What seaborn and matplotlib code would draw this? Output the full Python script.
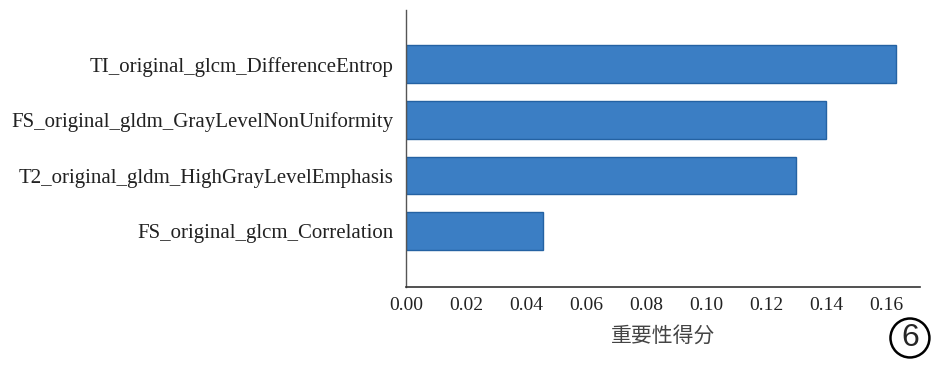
import matplotlib
matplotlib.use("Agg")
import matplotlib.pyplot as plt
import seaborn as sns
import pandas as pd

features = [
    "TI_original_glcm_DifferenceEntrop",
    "FS_original_gldm_GrayLevelNonUniformity",
    "T2_original_gldm_HighGrayLevelEmphasis",
    "FS_original_glcm_Correlation",
]
importance = [0.163, 0.140, 0.130, 0.0457]
xticks = [0.00, 0.02, 0.04, 0.06, 0.08, 0.10, 0.12, 0.14, 0.16]
xlabel = "重要性得分"
badge = "6"

sns.set_style("white")
plt.rcParams["font.family"] = ["Liberation Serif", "Noto Sans CJK SC", "DejaVu Sans"]

df = pd.DataFrame({"feature": features, "importance": importance})

fig = plt.figure(figsize=(9.41, 3.71), dpi=100)
ax = fig.add_axes([0.4315, 0.2264, 0.5462, 0.7466])
sns.barplot(data=df, x="importance", y="feature", color="#3b7ec4",
            saturation=1, width=0.68, edgecolor="#2462a3", linewidth=1.0, ax=ax)

ax.set_xlim(0, max(importance) * 1.05)
ax.set_ylim(4.0, -0.97)
ax.set_xticks(xticks)
ax.set_xticklabels([f"{t:.2f}" for t in xticks], fontsize=14, color="#222222")
ax.tick_params(axis="x", direction="out", length=4, width=1, color="#333333", pad=3)
ax.tick_params(axis="y", length=0, labelsize=15, labelcolor="#222222", pad=9)
ax.set_ylabel("")
ax.set_xlabel(xlabel, fontsize=15, color="#444444", family=["Noto Sans CJK SC", "DejaVu Sans"], labelpad=8)
for s in ["top", "right"]:
    ax.spines[s].set_visible(False)
ax.spines["left"].set_color("#555555")
ax.spines["bottom"].set_color("#333333")
ax.spines["left"].set_linewidth(1.0)
ax.spines["bottom"].set_linewidth(1.2)

fig.text(0.967, 0.089, badge, fontsize=23, family="Liberation Sans", ha="center", va="center",
         bbox=dict(boxstyle="circle,pad=0.14", fc="white", ec="black", lw=1.8))

fig.savefig("out.png", dpi=100)
